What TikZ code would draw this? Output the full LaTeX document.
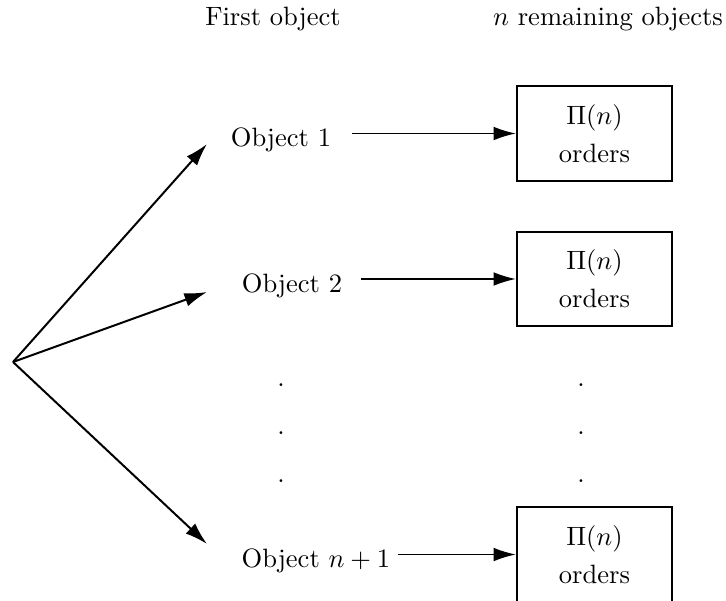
\documentclass[tikz,border=0pt]{standalone}
\usetikzlibrary{arrows.meta,positioning,calc}

\begin{document}
\begin{tikzpicture}[x=0.377pt,y=-0.377pt,
  arr/.style={-{Latex[length=8.5pt,width=5.2pt]},line width=0.75pt},
  orderbox/.style={draw,line width=0.75pt,minimum width=58.4pt,minimum height=35.8pt,align=center,inner sep=0pt},
  lbl/.style={anchor=base,inner sep=0pt},
  dot/.style={inner sep=0pt}]
  \useasboundingbox (0,0) rectangle (726,601);
  % column headings
  \node[lbl] (head1) at (273,26) {First object};
  \node[lbl] (head2) at (608,26) {$n$ remaining objects};
  % first object choices
  \node[lbl] (obj1) at (281,146) {Object 1};
  \node[lbl] (obj2) at (292,292) {Object 2};
  \node[lbl] (obj3) at (316,567) {Object $n+1$};
  % remaining orders
  \node[orderbox] (ord1) at (594.5,133.5) {$\Pi(n)$\\[2.3pt]orders};
  \node[orderbox] (ord2) at (594.5,279) {$\Pi(n)$\\[2.3pt]orders};
  \node[orderbox] (ord3) at (594.5,554.5) {$\Pi(n)$\\[2.3pt]orders};
  % dots
  \node[dot] (ldot1) at (281,385) {.};
  \node[dot] (ldot2) at (281,433) {.};
  \node[dot] (ldot3) at (281,481) {.};
  \node[dot] (rdot1) at (581,385) {.};
  \node[dot] (rdot2) at (581,433) {.};
  \node[dot] (rdot3) at (581,481) {.};
  % fan
  \coordinate (root) at (13,362);
  \coordinate (tip1) at (207,144);
  \coordinate (tip2) at (207,292);
  \coordinate (tip3) at (207,544);
  \draw[arr] (root) -- (tip1);
  \draw[arr] (root) -- (tip2);
  \draw[arr] (root) -- (tip3);
  \draw[arr] ([xshift=7.5pt]ord1.west -| obj1.east) -- (ord1.west);
  \draw[arr] ([xshift=6.8pt]ord2.west -| obj2.east) -- (ord2.west);
  \draw[arr] ([xshift=2.6pt]ord3.west -| obj3.east) -- (ord3.west);
\end{tikzpicture}
\end{document}
